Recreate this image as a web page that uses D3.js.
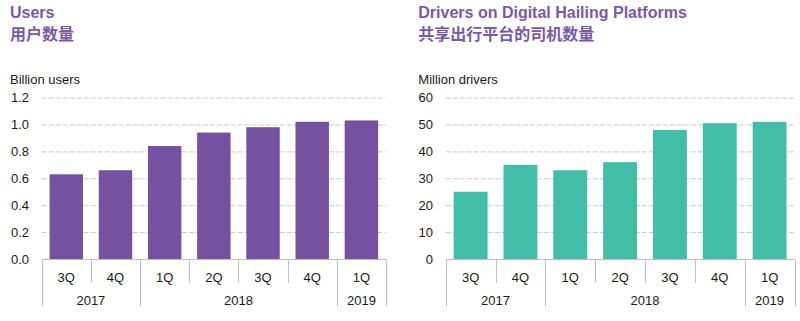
<!DOCTYPE html>
<meta charset="utf-8">
<script src="https://d3js.org/d3.v7.min.js"></script>
<style>
  body { margin: 0; background: #fff; }
  text { font-family: Arial, "Liberation Sans", "Noto Sans CJK SC", sans-serif; }
</style>
<div id="chart"></div>
<script>

  // quarters and the year each one belongs to
  var quarters = ["3Q", "4Q", "1Q", "2Q", "3Q", "4Q", "1Q"];
  var years = ["2017", "2017", "2018", "2018", "2018", "2018", "2019"];

  // series values
  var users = [0.63, 0.66, 0.84, 0.94, 0.98, 1.02, 1.03];      // billion users
  var drivers = [25, 35, 33, 36, 48, 50.5, 51];               // million drivers

  // tick labels
  var userTicks = [0, 0.2, 0.4, 0.6, 0.8, 1.0, 1.2];
  var driverTicks = [0, 10, 20, 30, 40, 50, 60];

  var svg = d3.select("#chart")
    .append("svg")
      .attr("width", 800)
      .attr("height", 321);

  var titleColor = "#7b59a8";

  function drawPanel(opt) {
    var g = svg.append("g");

    // titles
    g.append("text")
      .attr("x", opt.textX).attr("y", 18)
      .attr("fill", titleColor)
      .style("font-size", "16px").style("font-weight", "bold")
      .text(opt.title);
    g.append("text")
      .attr("x", opt.textX).attr("y", 40)
      .attr("fill", titleColor)
      .style("font-size", "16px").style("font-weight", "bold")
      .text(opt.titleCn);
    g.append("text")
      .attr("x", opt.textX).attr("y", 84)
      .attr("fill", "#1a1a1a")
      .style("font-size", "13px")
      .text(opt.unit);

    var idx = d3.range(opt.values.length);
    var x = d3.scaleBand()
      .domain(idx)
      .range([opt.left, opt.right])
      .paddingInner(0.32)
      .paddingOuter(0.16);
    var band = d3.scaleBand().domain(idx).range([opt.left, opt.right]);

    var y = d3.scaleLinear()
      .domain([0, d3.max(opt.ticks)])
      .range([259, 97.6]);

    // gridlines
    g.selectAll(".grid")
      .data(opt.ticks.slice(1))
      .enter().append("line")
        .attr("x1", opt.left).attr("x2", opt.right)
        .attr("y1", function(d) { return y(d) + 0.5 })
        .attr("y2", function(d) { return y(d) + 0.5 })
        .attr("stroke", "#c8c8c8")
        .attr("stroke-dasharray", "5,2")
        .attr("stroke-width", 1);

    // y tick labels
    g.selectAll(".ylab")
      .data(opt.ticks)
      .enter().append("text")
        .attr("x", opt.left - 12.7)
        .attr("y", function(d) { return y(d) + 4.5 })
        .attr("text-anchor", "end")
        .attr("fill", "#1a1a1a")
        .style("font-size", "13px")
        .text(function(d) { return opt.fmt(d) });

    // bars
    g.selectAll(".bar")
      .data(opt.values)
      .enter().append("rect")
        .attr("x", function(d, i) { return x(i) })
        .attr("width", x.bandwidth())
        .attr("y", function(d) { return y(d) })
        .attr("height", function(d) { return y(0) - y(d) })
        .attr("fill", opt.color);

    // baseline
    g.append("line")
      .attr("x1", opt.left).attr("x2", opt.right)
      .attr("y1", 259.5).attr("y2", 259.5)
      .attr("stroke", "#bfbfbf");

    // category separators: short between quarters, long between years
    var edges = d3.range(opt.values.length + 1);
    g.selectAll(".sep")
      .data(edges)
      .enter().append("line")
        .attr("x1", function(i) { return Math.round(i < quarters.length ? band(i) : opt.right) + 0.5 })
        .attr("x2", function(i) { return Math.round(i < quarters.length ? band(i) : opt.right) + 0.5 })
        .attr("y1", 259.5)
        .attr("y2", function(i) {
          var yearBreak = i == 0 || i == quarters.length || years[i] != years[i - 1];
          return yearBreak ? 306 : 283;
        })
        .attr("stroke", "#bfbfbf");

    // quarter labels
    g.selectAll(".qlab")
      .data(quarters)
      .enter().append("text")
        .attr("x", function(d, i) { return band(i) + band.bandwidth() / 2 })
        .attr("y", 281.5)
        .attr("text-anchor", "middle")
        .attr("fill", "#1a1a1a")
        .style("font-size", "13px")
        .text(function(d) { return d });

    // year labels, centred over their quarters
    var yearList = Array.from(new Set(years));
    g.selectAll(".ylab2")
      .data(yearList)
      .enter().append("text")
        .attr("x", function(yr) {
          var first = years.indexOf(yr), last = years.lastIndexOf(yr);
          return (band(first) + band(last) + band.bandwidth()) / 2;
        })
        .attr("y", 305)
        .attr("text-anchor", "middle")
        .attr("fill", "#1a1a1a")
        .style("font-size", "13px")
        .text(function(d) { return d });
  }

  drawPanel({
    left: 41.7, right: 386, textX: 10,
    values: users, ticks: userTicks,
    fmt: d3.format(".1f"),
    color: "#7552a1",
    title: "Users", titleCn: "用户数量", unit: "Billion users"
  });

  drawPanel({
    left: 445.7, right: 794.5, textX: 418.3,
    values: drivers, ticks: driverTicks,
    fmt: d3.format("d"),
    color: "#42bda8",
    title: "Drivers on Digital Hailing Platforms", titleCn: "共享出行平台的司机数量", unit: "Million drivers"
  });

</script>
